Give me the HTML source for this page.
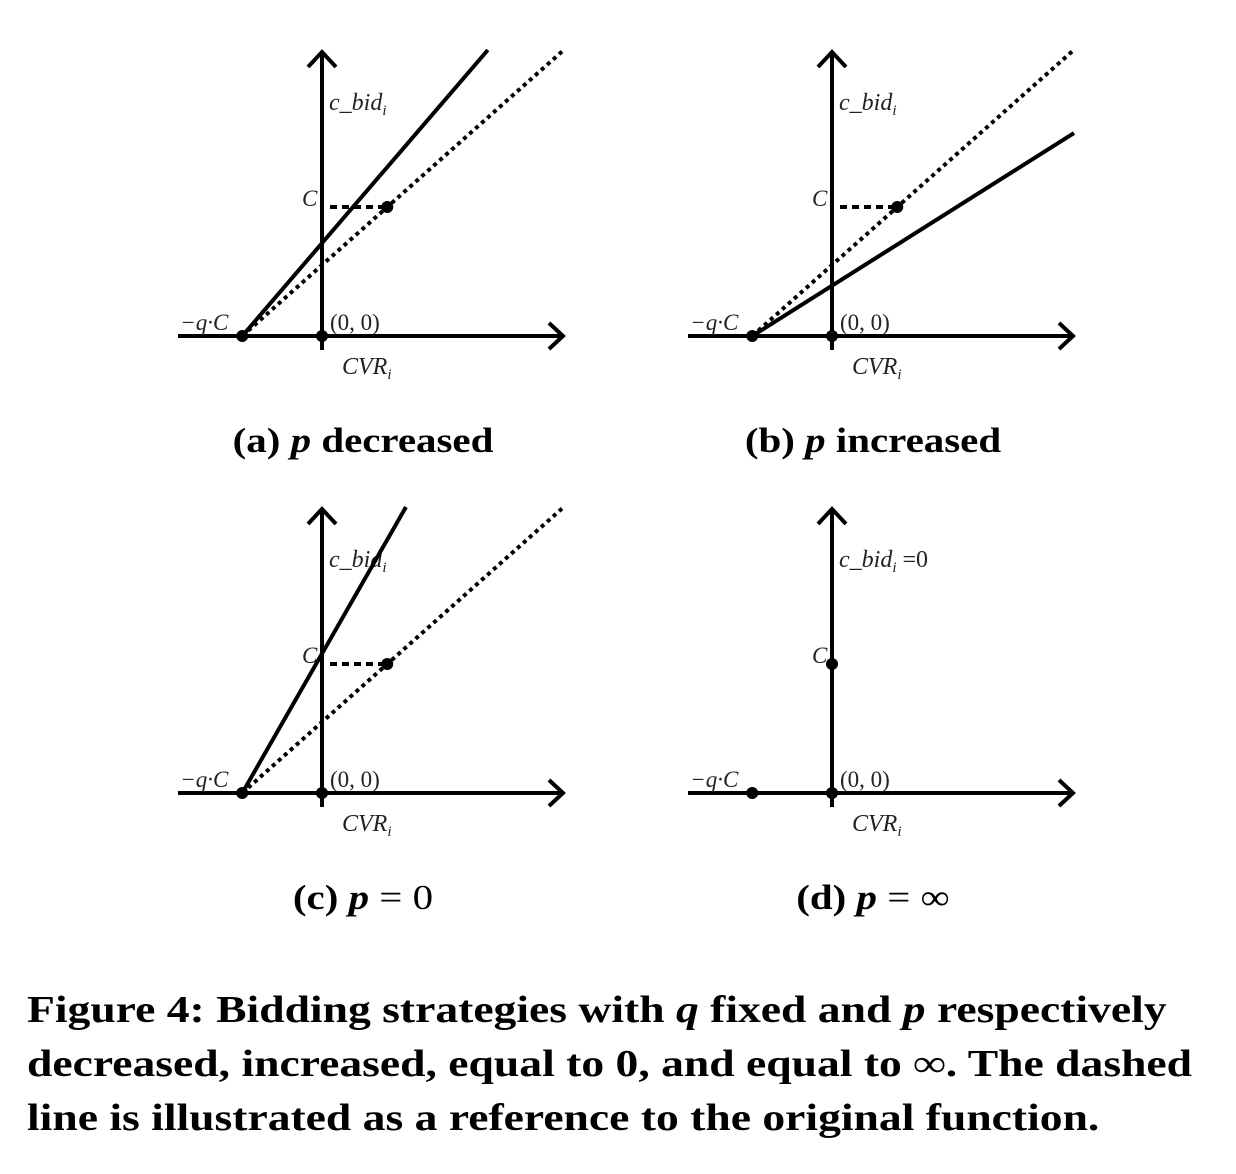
<!DOCTYPE html>
<html><head><meta charset="utf-8"><style>
body{margin:0;background:#fff;width:1236px;height:1174px;overflow:hidden;font-family:"Liberation Serif",serif}
svg{position:absolute;left:0;top:0}
.cap{position:absolute;left:27px;top:983px;font-weight:bold;font-size:38px;line-height:54px;white-space:nowrap;transform:scaleX(1.2);transform-origin:0 0}
</style></head><body>
<svg id="fig" width="1236" height="1174"></svg>
<div class="cap">Figure 4: Bidding strategies with <i>q</i> fixed and <i>p</i> respectively<br>decreased, increased, equal to 0, and equal to ∞. The dashed<br>line is illustrated as a reference to the original function.</div>
<script>
const panelNames=["a","b","c","d"];
const subCaptions=["(a) ","(b) ","(c) ","(d) "];
const subCaptionText=[" decreased"," increased"," = 0"," = ∞"];
const yLabels=["c_bid","c_bid","c_bid","c_bid"];
// math coords: x in units, y in units of C
const qC=0.55;
const refPointX=[0.45,0.45,0.45,0.45];
const solidYIntercept=[0.72,0.39,1.08,null];
const originX=[322,832,322,832], originY=[336,336,793,793];
const ux=145, uy=129;
const svg=document.getElementById('fig');
const NS='http://www.w3.org/2000/svg';
function el(t,a,txt,parent){const e=document.createElementNS(NS,t);for(const k in a)e.setAttribute(k,a[k]);if(txt!==undefined)e.textContent=txt;(parent||svg).appendChild(e);return e;}
panelNames.forEach((n,i)=>{
  const ox=originX[i], oy=originY[i];
  const X=v=>ox+v*ux, Y=v=>oy-v*uy;
  let e;
  e=el('line',{x1:ox-144,y1:oy,x2:ox+240,y2:oy,stroke:'#000','stroke-width':4});
  
  e=el('polyline',{points:`${ox+227},${oy-13} ${ox+241},${oy} ${ox+227},${oy+13}`,fill:'none',stroke:'#000','stroke-width':4});
  
  e=el('line',{x1:ox,y1:oy+14,x2:ox,y2:oy-283,stroke:'#000','stroke-width':4});
  
  e=el('polyline',{points:`${ox-14},${oy-269} ${ox},${oy-284} ${ox+14},${oy-269}`,fill:'none',stroke:'#000','stroke-width':4});
  
  e=el('text',{x:ox+7,y:oy-226,'font-size':24,'font-style':'italic',fill:'#222'},yLabels[i]);
  
  el('tspan',{'font-size':15,dy:5},'i',e);
  if(i===3){el('tspan',{'font-size':24,dy:-5,'font-style':'normal'},' =0',e);}
  e=el('text',{x:ox+20,y:oy+38,'font-size':24,'font-style':'italic',fill:'#222'},'CVR');
  
  el('tspan',{'font-size':15,dy:5},'i',e);
  e=el('text',{x:ox+8,y:oy-6,'font-size':23,fill:'#222'},'(0, 0)');
  
  e=el('text',{x:X(-qC)-62,y:oy-6,'font-size':23,'font-style':'italic',fill:'#222'},'−q·C');
  
  e=el('text',{x:ox-20,y:Y(1)-1,'font-size':23,'font-style':'italic',fill:'#222'},'C');
  
  if(i<3){
    const px=refPointX[i];
    const slope=1/(px+qC);
    const xe=ox+243; const ve=(xe-ox)/ux;
    e=el('line',{x1:X(-qC),y1:oy,x2:xe,y2:Y(slope*(ve+qC)),stroke:'#000','stroke-width':4,'stroke-dasharray':'4 4'});
    
    e=el('line',{x1:ox+8,y1:Y(1),x2:X(px),y2:Y(1),stroke:'#000','stroke-width':4,'stroke-dasharray':'7 5'});
    
    e=el('circle',{cx:X(px),cy:Y(1),r:6,fill:'#000'});
    
    const s2=solidYIntercept[i]/qC;
    let vtop=286/uy; let xt=vtop/s2-qC;
    if(X(xt)>ox+242){xt=242/ux; vtop=s2*(xt+qC);}
    e=el('line',{x1:X(-qC),y1:oy,x2:X(xt),y2:Y(vtop),stroke:'#000','stroke-width':4});
    
  } else {
    e=el('circle',{cx:ox,cy:Y(1),r:6,fill:'#000'});
    
  }
  e=el('circle',{cx:X(-qC),cy:oy,r:6,fill:'#000'});
  
  e=el('circle',{cx:ox,cy:oy,r:6,fill:'#000'});
  
  const cx=ox+41;
  const g=el('g',{transform:`translate(${cx},${oy+116}) scale(1.17,1)`});
  e=el('text',{x:0,y:0,'font-size':35,'font-weight':'bold','text-anchor':'middle'},subCaptions[i],g);
  
  el('tspan',{'font-style':'italic'},'p',e);
  el('tspan',{'font-weight':i>=2?'normal':'bold'},subCaptionText[i],e);
});
</script>
</body></html>
